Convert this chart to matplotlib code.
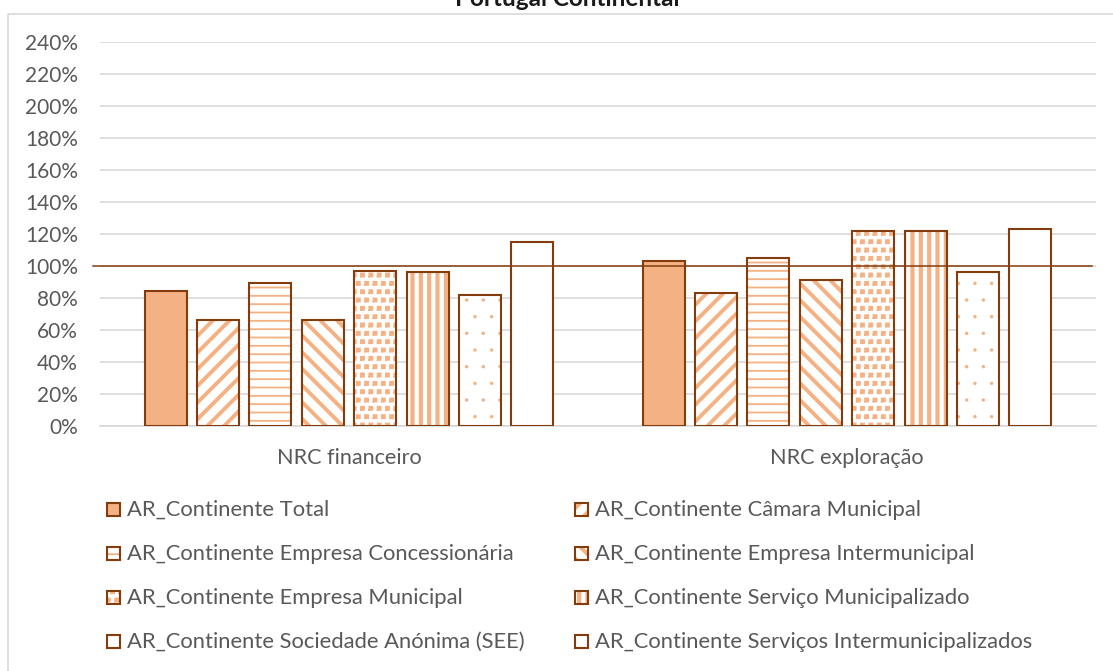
import matplotlib
matplotlib.use("Agg")
import matplotlib.pyplot as plt
import matplotlib.hatch as mhatch
from matplotlib.path import Path
import numpy as np

# ---- data -------------------------------------------------------------
title = "Portugal Continental"
categories = ["NRC financeiro", "NRC exploração"]
series_names = [
    "AR_Continente Total",
    "AR_Continente Câmara Municipal",
    "AR_Continente Empresa Concessionária",
    "AR_Continente Empresa Intermunicipal",
    "AR_Continente Empresa Municipal",
    "AR_Continente Serviço Municipalizado",
    "AR_Continente Sociedade Anónima (SEE)",
    "AR_Continente Serviços Intermunicipalizados",
]
nrc_financeiro = [0.84, 0.66, 0.89, 0.66, 0.97, 0.96, 0.82, 1.15]
nrc_exploracao = [1.03, 0.83, 1.05, 0.91, 1.22, 1.22, 0.96, 1.23]
reference_level = 1.0
y_ticks = [0.0, 0.2, 0.4, 0.6, 0.8, 1.0, 1.2, 1.4, 1.6, 1.8, 2.0, 2.2, 2.4]

# ---- style ------------------------------------------------------------
FILL = "#F4B183"
EDGE = "#843C0C"
GRID = "#D9D9D9"
TEXT = "#595959"
FONT = "Lato"
# per-series fill: 'solid', a hatch pattern, or None (plain white)
patterns = ["solid", "//", "--", "\\\\", "**", "||", ".", None]
pattern_lw = [0, 2.8, 1.3, 2.8, 1.0, 3.0, 1.0, 0]


# "confetti" texture: small filled squares on a staggered grid, used in
# place of the star hatch ('*')
class _SquareConfetti(mhatch.Stars):
    def __init__(self, hatch, density):
        super().__init__(hatch, density)
        k = len(self.shape_vertices)
        s = 0.62
        corners = [(-s, -s), (s, -s), (s, s), (-s, s), (-s, -s)]
        verts = corners + [corners[-1]] * (k - len(corners))
        self.shape_vertices = np.array(verts, dtype=float)
        codes = np.full(k, Path.LINETO, dtype=Path.code_type)
        codes[0] = Path.MOVETO
        self.shape_codes = codes


# sparse, tiny dots for the '.' hatch
class _TinyDots(mhatch.SmallFilledCircles):
    size = 0.06


try:
    _swap = {mhatch.Stars: _SquareConfetti, mhatch.SmallFilledCircles: _TinyDots}
    mhatch._hatch_types = [_swap.get(t, t) for t in mhatch._hatch_types]
except AttributeError:
    pass

W, H = 1113, 671
fig = plt.figure(figsize=(W / 100, H / 100), dpi=100)
fig.patch.set_facecolor("white")

ax = fig.add_axes([100 / W, (H - 426) / H, 996 / W, (426 - 41.5) / H])
ax.set_xlim(-0.5, len(categories) - 0.5)
ax.set_ylim(0, y_ticks[-1])

x = np.arange(len(categories))
px_per_unit = 996 / len(categories)
pitch = 52.4 / px_per_unit
width = 42 / px_per_unit
n = len(series_names)


def draw_bars(target, pos, vals, wid, pat, plw, edge_lw, z=2, bottom=0):
    if pat == "solid":
        target.bar(pos, vals, wid, bottom=bottom, facecolor=FILL, edgecolor=EDGE,
                   linewidth=edge_lw, zorder=z + 1)
        return
    if pat:
        with plt.rc_context({"hatch.linewidth": plw}):
            bars = target.bar(pos, vals, wid, bottom=bottom, facecolor="white",
                              edgecolor=FILL, linewidth=0, hatch=pat, zorder=z)
        for b in bars:
            if hasattr(b, "set_hatch_linewidth"):
                b.set_hatch_linewidth(plw)
        face = "none"
    else:
        face = "white"
    target.bar(pos, vals, wid, bottom=bottom, facecolor=face, edgecolor=EDGE,
               linewidth=edge_lw, zorder=z + 1)


for i in range(n):
    vals = [nrc_financeiro[i], nrc_exploracao[i]]
    pos = x + (i - (n - 1) / 2) * pitch
    draw_bars(ax, pos, vals, width, patterns[i], pattern_lw[i], 1.5)

ax.axhline(reference_level, xmin=-7 / 996, xmax=992 / 996, color=EDGE,
           linewidth=1.1, zorder=5, clip_on=False)

ax.set_yticks(y_ticks)
ax.set_yticklabels([f"{round(v * 100)}%" for v in y_ticks])
ax.set_xticks(x)
ax.set_xticklabels(categories)
ax.tick_params(axis="y", length=0, labelcolor=TEXT, labelsize=15, pad=16)
ax.tick_params(axis="x", length=0, labelcolor=TEXT, labelsize=15.6, pad=16)
for lab in ax.get_xticklabels() + ax.get_yticklabels():
    lab.set_fontfamily(FONT)

ax.yaxis.grid(True, color=GRID, linewidth=1.2, zorder=0)
ax.set_axisbelow(True)
for side in ["left", "right", "top"]:
    ax.spines[side].set_visible(False)
ax.spines["bottom"].set_color(GRID)
ax.spines["bottom"].set_linewidth(1.2)

# overlay in pixel coordinates for the frame, title and legend
ov = fig.add_axes([0, 0, 1, 1], zorder=-1)
ov.set_xlim(0, W)
ov.set_ylim(H, 0)
ov.axis("off")
ov.plot([7.5, 7.5, W + 5], [H + 5, 13.5, 13.5], color=GRID, linewidth=1.2,
        clip_on=False)

fig.text(567 / W, 1 - 6.5 / H, title, ha="center", va="baseline",
         fontsize=17.5, fontweight="bold", fontfamily=FONT, color="#1A1A1A")

leg = fig.add_axes([0, 0, 1, 1])
leg.set_xlim(0, W)
leg.set_ylim(H, 0)
leg.axis("off")
col_x = [107, 575]
row_y = [509, 553, 597, 641]
for i, name in enumerate(series_names):
    cx = col_x[i % 2]
    cy = row_y[i // 2]
    draw_bars(leg, [cx + 6.5], [-13], 13, patterns[i], pattern_lw[i], 1.5,
              bottom=cy + 6.5)
    leg.text(cx + 20, cy + 1, name, ha="left", va="center", fontsize=15.8,
             fontfamily=FONT, color=TEXT)

fig.savefig("out.png", dpi=100, facecolor="white")
